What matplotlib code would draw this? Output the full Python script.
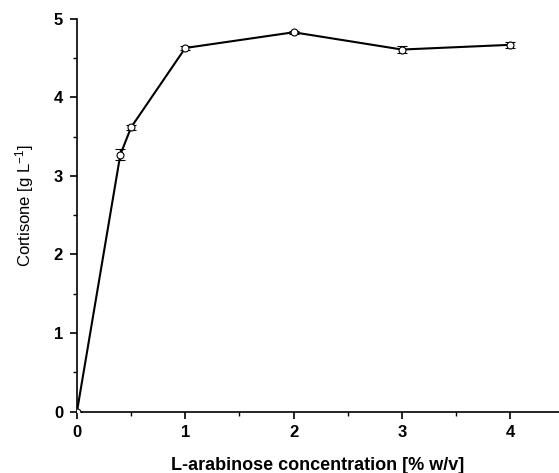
import matplotlib
matplotlib.use("Agg")
import matplotlib.pyplot as plt
from matplotlib.ticker import MultipleLocator

conc = [0, 0.4, 0.5, 1, 2, 3, 4]
cortisone = [0.0, 3.27, 3.62, 4.63, 4.83, 4.61, 4.67]
err = [0.0, 0.07, 0.03, 0.03, 0.02, 0.05, 0.04]

plt.rcParams['font.family'] = ['Liberation Sans', 'DejaVu Sans']
plt.rcParams['mathtext.fontset'] = 'custom'
plt.rcParams['mathtext.rm'] = 'Liberation Sans'
plt.rcParams['mathtext.default'] = 'rm'

fig = plt.figure(figsize=(5.59, 4.73), dpi=100)
ax = fig.add_axes([0.1377, 0.130, 0.8623, 0.830])

ax.errorbar(conc, cortisone, yerr=err, color='black', lw=1.5, marker='o', ms=5,
            mfc='white', mec='black', mew=0.8, ecolor='black', elinewidth=0.9,
            capsize=3.5, capthick=0.9, zorder=3)

ax.set_xlim(0, 4.45)
ax.set_ylim(0, 5)
ax.xaxis.set_major_locator(MultipleLocator(1))
ax.xaxis.set_minor_locator(MultipleLocator(0.5))
ax.yaxis.set_major_locator(MultipleLocator(1))
ax.yaxis.set_minor_locator(MultipleLocator(0.5))
for s in ['top', 'right']:
    ax.spines[s].set_visible(False)
for s in ['left', 'bottom']:
    ax.spines[s].set_linewidth(1.2)
ax.tick_params(which='major', direction='out', length=5, width=1.2, labelsize=12, pad=5)
ax.tick_params(which='minor', direction='out', length=3, width=1.0)
for lbl in ax.get_xticklabels() + ax.get_yticklabels():
    lbl.set_fontweight('bold')

ax.set_xlabel('L-arabinose concentration [% w/v]', fontsize=13, fontweight='bold', labelpad=12)
ax.set_ylabel('Cortisone [g L$^{-1}$]', fontsize=12, labelpad=13)
ax.yaxis.label.set_y(0.525)

fig.savefig('out.png', dpi=100)
